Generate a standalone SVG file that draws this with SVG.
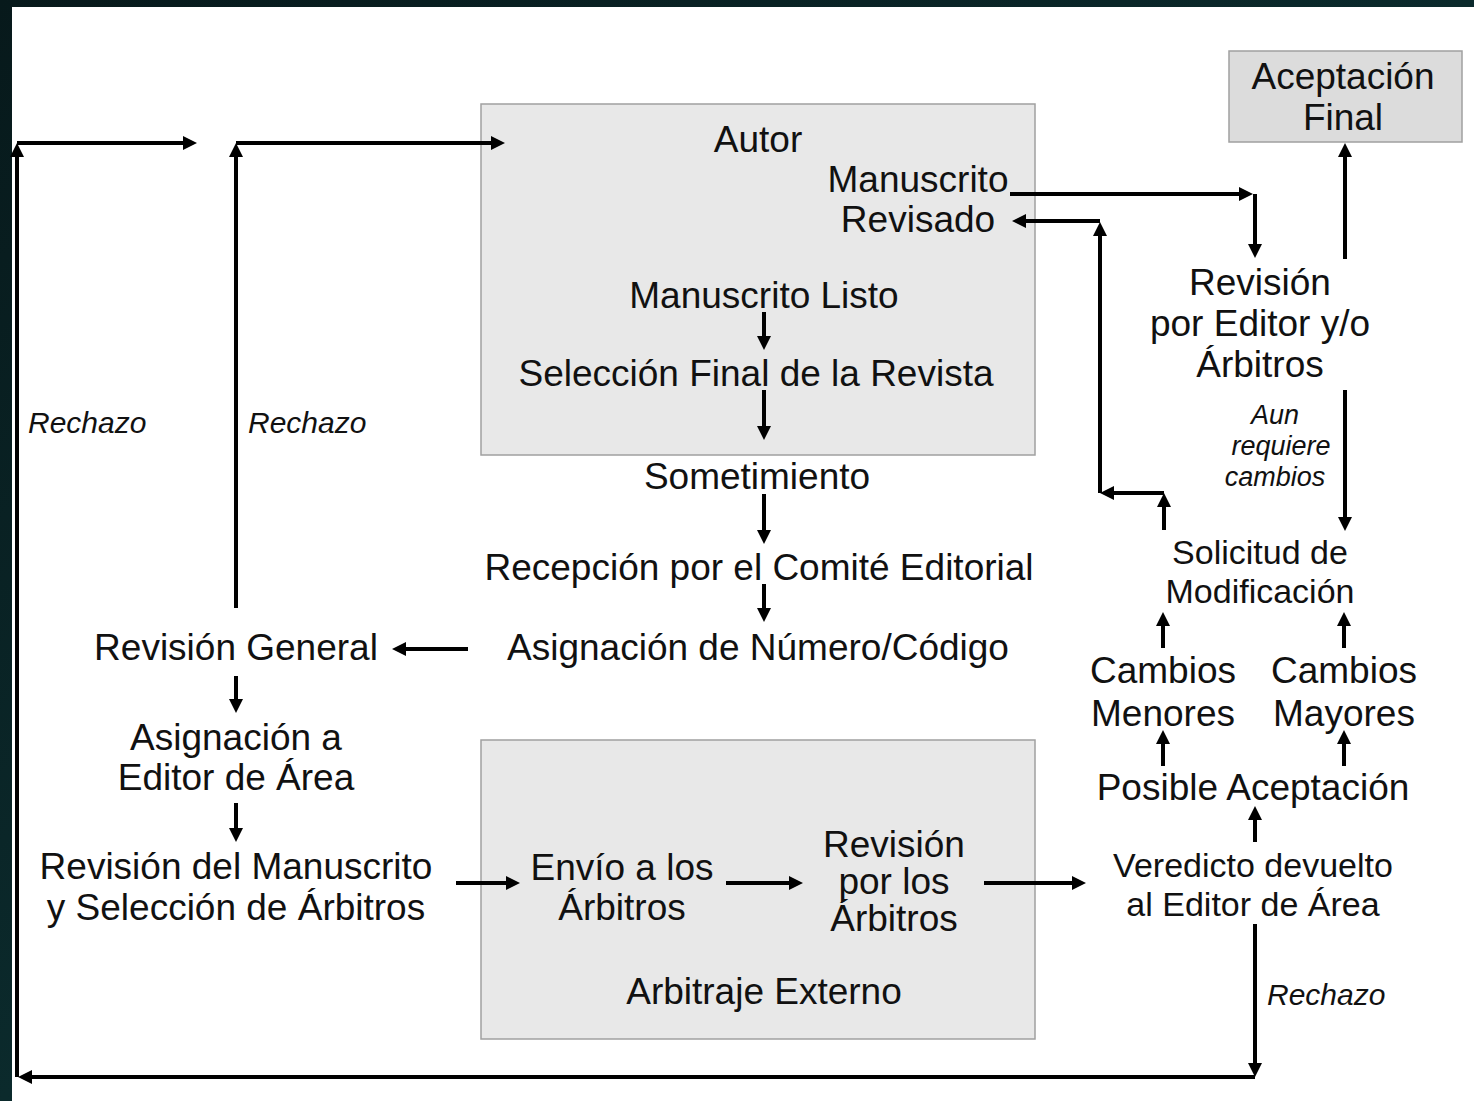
<svg xmlns="http://www.w3.org/2000/svg" width="1474" height="1101" viewBox="0 0 1474 1101">
<defs>
<marker id="ah" markerUnits="userSpaceOnUse" markerWidth="14" markerHeight="14" refX="10" refY="7" orient="auto">
<path d="M0,0 L14,7 L0,14 z" fill="#000"/>
</marker>
<linearGradient id="bg" x1="0" y1="0" x2="1" y2="1">
<stop offset="0" stop-color="#07191b"/>
<stop offset="0.5" stop-color="#0b2a2c"/>
<stop offset="1" stop-color="#061416"/>
</linearGradient>
</defs>
<style>
text{font-family:"Liberation Sans",Arial,sans-serif;font-size:37px;fill:#111;text-anchor:middle}
.it{font-style:italic;font-size:30px;text-anchor:start}
.tight{font-size:34px}
.aun{font-style:italic;font-size:27px}
.box{fill:#e8e8e8;stroke:#a0a0a0;stroke-width:1.5}
.box2{fill:#dcdcdc;stroke:#a0a0a0;stroke-width:1.5}
#connectors path{fill:none;stroke:#000;stroke-width:4;marker-end:url(#ah)}
</style>
<rect width="1474" height="1101" fill="url(#bg)"/>
<rect x="12" y="7" width="1462" height="1094" fill="#fff"/>

<g id="autor-box"><rect class="box" x="481" y="104" width="554" height="351"/></g>
<g id="arbitraje-box"><rect class="box" x="481" y="740" width="554" height="299"/></g>
<g id="aceptacion-final"><rect class="box2" x="1229" y="51" width="233" height="91"/>
<text><tspan x="1343" y="89">Aceptación</tspan><tspan x="1343" y="130">Final</tspan></text></g>

<g id="autor"><text x="758" y="152">Autor</text></g>
<g id="manuscrito-revisado"><text><tspan x="918" y="192">Manuscrito</tspan><tspan x="918" y="232">Revisado</tspan></text></g>
<g id="manuscrito-listo"><text x="764" y="308">Manuscrito Listo</text></g>
<g id="seleccion"><text x="756" y="386">Selección Final de la Revista</text></g>
<g id="sometimiento"><text x="757" y="489">Sometimiento</text></g>
<g id="recepcion"><text x="759" y="580">Recepción por el Comité Editorial</text></g>
<g id="asignacion-numero"><text x="758" y="660">Asignación de Número/Código</text></g>
<g id="revision-general"><text x="236" y="660">Revisión General</text></g>
<g id="asignacion-editor"><text><tspan x="236" y="750">Asignación a</tspan><tspan x="236" y="790">Editor de Área</tspan></text></g>
<g id="revision-manuscrito"><text><tspan x="236" y="879">Revisión del Manuscrito</tspan><tspan x="236" y="920">y Selección de Árbitros</tspan></text></g>
<g id="envio"><text><tspan x="622" y="880">Envío a los</tspan><tspan x="622" y="920">Árbitros</tspan></text></g>
<g id="revision-arbitros"><text><tspan x="894" y="857">Revisión</tspan><tspan x="894" y="894">por los</tspan><tspan x="894" y="931">Árbitros</tspan></text></g>
<g id="arbitraje-externo"><text x="764" y="1004">Arbitraje Externo</text></g>
<g id="veredicto"><text class="tight"><tspan x="1253" y="877">Veredicto devuelto</tspan><tspan x="1253" y="916">al Editor de Área</tspan></text></g>
<g id="posible-aceptacion"><text x="1253" y="800">Posible Aceptación</text></g>
<g id="cambios-menores"><text><tspan x="1163" y="683">Cambios</tspan><tspan x="1163" y="726">Menores</tspan></text></g>
<g id="cambios-mayores"><text><tspan x="1344" y="683">Cambios</tspan><tspan x="1344" y="726">Mayores</tspan></text></g>
<g id="solicitud"><text class="tight"><tspan x="1260" y="564">Solicitud de</tspan><tspan x="1260" y="603">Modificación</tspan></text></g>
<g id="revision-editor"><text><tspan x="1260" y="295">Revisión</tspan><tspan x="1260" y="336">por Editor y/o</tspan><tspan x="1260" y="377">Árbitros</tspan></text></g>

<g id="connectors">
<path d="M764,312 V346"/>
<path d="M764,390 V436"/>
<path d="M764,494 V540"/>
<path d="M764,584 V618"/>
<path d="M468,649 H396"/>
<path d="M236,676 V709"/>
<path d="M236,803 V838"/>
<path d="M456,883 H516"/>
<path d="M726,883 H799"/>
<path d="M984,883 H1082"/>
<path d="M1255,842 V810"/>
<path d="M1163,766 V734"/>
<path d="M1344,766 V734"/>
<path d="M1163,648 V616"/>
<path d="M1344,648 V616"/>
<path d="M1164,530 V497"/>
<path d="M1164,493 H1104"/>
<path d="M1100,493 V226"/>
<path d="M1100,221 H1016"/>
<path d="M1010,194 H1249"/>
<path d="M1255,194 V254"/>
<path d="M1345,259 V147"/>
<path d="M1345,390 V527"/>
<path d="M1255,924 V1073"/>
<path d="M1255,1077 H22"/>
<path d="M17,1077 V147"/>
<path d="M17,143 H193"/>
<path d="M236,608 V147"/>
<path d="M236,143 H501"/>
</g>

<g id="labels">
<text class="it" x="28" y="433">Rechazo</text>
<text class="it" x="248" y="433">Rechazo</text>
<text class="it" x="1267" y="1005">Rechazo</text>
<text class="aun"><tspan x="1275" y="424">Aun</tspan><tspan x="1281" y="455">requiere</tspan><tspan x="1275" y="486">cambios</tspan></text>
</g>
</svg>
